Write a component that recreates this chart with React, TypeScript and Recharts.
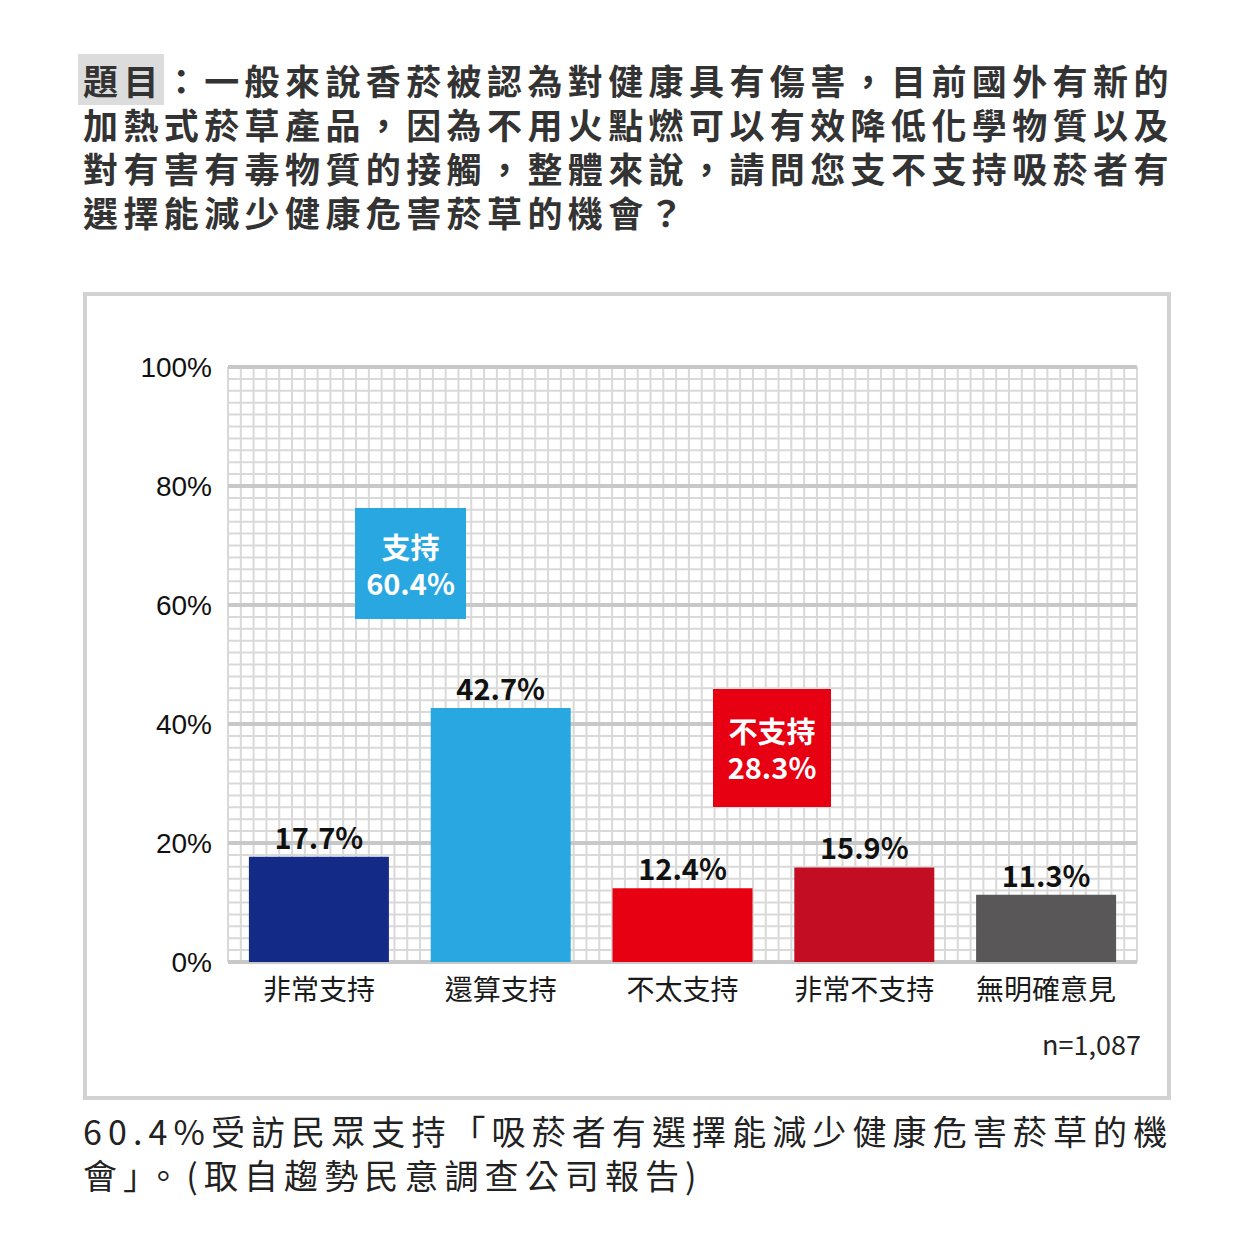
import React from 'react';
import { BarChart, Bar, XAxis, YAxis, CartesianGrid, Cell, LabelList } from 'recharts';

const categories = ['非常支持', '還算支持', '不太支持', '非常不支持', '無明確意見'];
const values = [17.7, 42.7, 12.4, 15.9, 11.3];
const barColors = ['#132B87', '#29A7E1', '#E60012', '#C30D23', '#595757'];
const yTicks = [0, 20, 40, 60, 80, 100];
const titleLines = [
  '一般來說香菸被認為對健康具有傷害，目前國外有新的',
  '加熱式菸草產品，因為不用火點燃可以有效降低化學物質以及',
  '對有害有毒物質的接觸，整體來說，請問您支不支持吸菸者有',
  '選擇能減少健康危害菸草的機會？',
];
const footLines = [
  '60.4%受訪民眾支持「吸菸者有選擇能減少健康危害菸草的機',
  '會」。(取自趨勢民意調查公司報告)',
];
const sampleNote = 'n=1,087';
const supportLabel = '支持';
const opposeLabel = '不支持';

const data = categories.map((c, i) => ({ name: c, value: values[i] }));
const supportSum = values[0] + values[1];
const opposeSum = values[2] + values[3];

const CJK = '"Noto Sans CJK TC", "Noto Sans CJK SC", sans-serif';
const MINOR_COLS = 71;
const MINOR_ROWS = 50;

export default function App() {
  const W = 1241;
  const H = 1253;
  return (
    <div style={{ position: 'absolute', left: 0, top: 0, width: W, height: H, background: '#fff', fontFamily: CJK }}>
      {/* Title */}
      <div style={{ position: 'absolute', left: 83, top: 58, width: 1100, color: '#333', fontWeight: 700, fontSize: 35, letterSpacing: 5.4, lineHeight: '44px' }}>
        {titleLines.map((l, i) => (
          <div key={i} style={{ whiteSpace: 'nowrap' }}>
            {i === 0 && (
              <span style={{ background: '#dcdcdc', marginLeft: -5, paddingLeft: 5 }}>題目</span>
            )}
            {i === 0 ? '：' : ''}
            {l}
          </div>
        ))}
      </div>

      {/* Frame */}
      <div style={{ position: 'absolute', left: 83, top: 292, width: 1080, height: 800, border: '4px solid #d2d2d2', background: '#fff' }} />

      {/* Chart */}
      <div style={{ position: 'absolute', left: 0, top: 0 }}>
        <BarChart
          width={1241}
          height={1100}
          data={data}
          margin={{ top: 367, right: 104, bottom: 78, left: 148 }}
          barCategoryGap="11.5%"
        >
          <CartesianGrid
            stroke="#d9d9d9"
            strokeWidth={2}
            verticalCoordinatesGenerator={({ offset }: any) =>
              Array.from({ length: MINOR_COLS + 1 }, (_, i) => offset.left + (i * offset.width) / MINOR_COLS)
            }
            horizontalCoordinatesGenerator={({ offset }: any) =>
              Array.from({ length: MINOR_ROWS + 1 }, (_, i) => offset.top + (i * offset.height) / MINOR_ROWS)
            }
          />
          <CartesianGrid vertical={false} stroke="#c8c8c8" strokeWidth={4} />
          <XAxis
            dataKey="name"
            height={60}
            axisLine={false}
            tickLine={false}
            tickSize={0}
            tickMargin={18}
            interval={0}
            tick={{ fontSize: 28, fill: '#1a1a1a', fontFamily: CJK }}
          />
          <YAxis
            width={80}
            domain={[0, 100]}
            ticks={yTicks}
            tickFormatter={(v: number) => `${v}%`}
            axisLine={false}
            tickLine={false}
            tickSize={0}
            tickMargin={16}
            tick={{ fontSize: 28, fill: '#111', fontFamily: '"Liberation Sans", Arial, sans-serif' }}
          />
          <Bar dataKey="value" isAnimationActive={false}>
            {data.map((d, i) => (
              <Cell key={d.name} fill={barColors[i]} />
            ))}
            <LabelList
              dataKey="value"
              position="top"
              offset={8}
              formatter={(v: any) => `${Number(v).toFixed(1)}%`}
              style={{ fontSize: 29, fontWeight: 700, fill: '#111', fontFamily: CJK }}
            />
          </Bar>
        </BarChart>
      </div>

      {/* Summary boxes */}
      <div style={{ position: 'absolute', left: 355, top: 508, width: 111, height: 111, background: '#29A7E1', color: '#fff', fontWeight: 700, fontSize: 29, lineHeight: '36px', display: 'flex', flexDirection: 'column', alignItems: 'center', justifyContent: 'center' }}>
        <div>{supportLabel}</div>
        <div>{supportSum.toFixed(1)}%</div>
      </div>
      <div style={{ position: 'absolute', left: 713, top: 689, width: 118, height: 118, background: '#E60012', color: '#fff', fontWeight: 700, fontSize: 29, lineHeight: '36px', display: 'flex', flexDirection: 'column', alignItems: 'center', justifyContent: 'center' }}>
        <div>{opposeLabel}</div>
        <div>{opposeSum.toFixed(1)}%</div>
      </div>

      {/* n note */}
      <div style={{ position: 'absolute', right: W - 1141, top: 1026, fontSize: 27, color: '#222', lineHeight: '36px' }}>{sampleNote}</div>

      {/* Footer */}
      <div style={{ position: 'absolute', left: 83, top: 1109, width: 1120, color: '#222', fontSize: 34, letterSpacing: 6.1, lineHeight: '44px' }}>
        {footLines.map((l, i) => (
          <div key={i} style={{ whiteSpace: 'nowrap' }}>{l}</div>
        ))}
      </div>
    </div>
  );
}
